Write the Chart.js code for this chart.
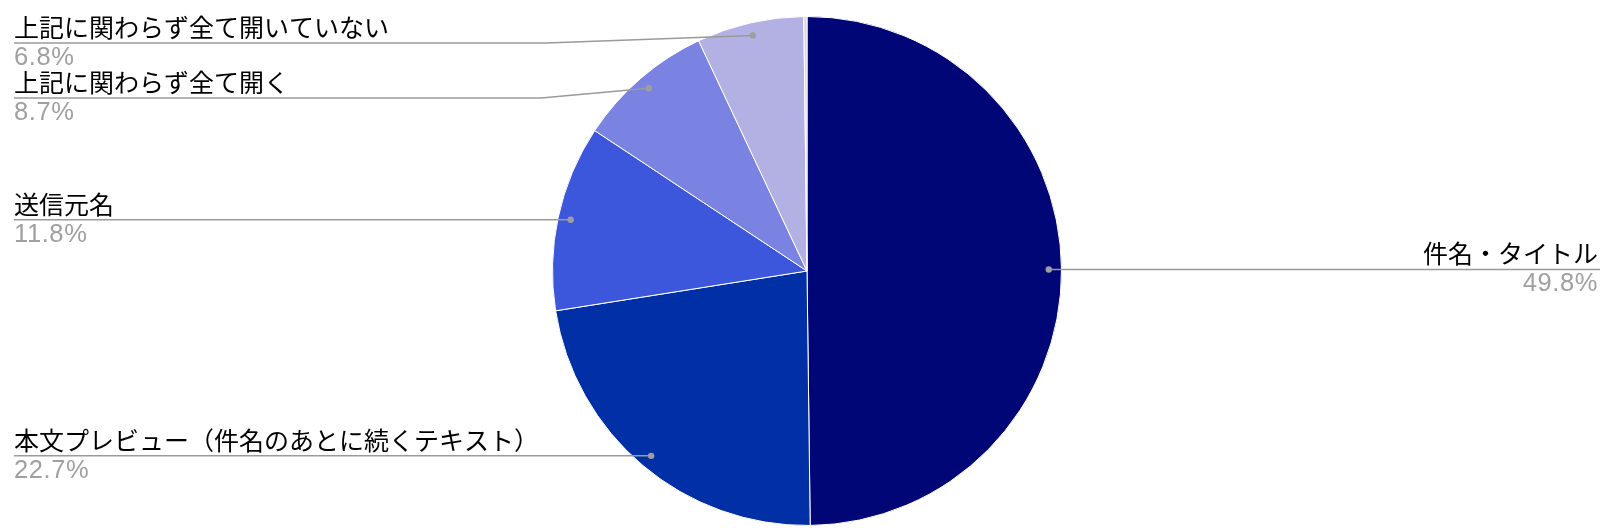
<!DOCTYPE html>
<html>
<head>
<meta charset="utf-8">
<script src="https://cdn.jsdelivr.net/npm/chart.js@4.4.1/dist/chart.umd.min.js"></script>
<style>
  html, body { margin: 0; padding: 0; background: #ffffff; }
  #wrap { width: 1600px; height: 528px; position: relative; }
</style>
</head>
<body>
<div id="wrap"><canvas id="c" width="1600" height="528"></canvas></div>
<script>
const categories = [
  '件名・タイトル',
  '本文プレビュー（件名のあとに続くテキスト）',
  '送信元名',
  '上記に関わらず全て開く',
  '上記に関わらず全て開いていない',
  'その他'
];
const values = [49.8, 22.7, 11.8, 8.7, 6.8, 0.2];
const colors = ['#000675', '#002FA6', '#3C57DB', '#7B83E2', '#B3B1E4', '#DADADA'];

const leaderPlugin = {
  id: 'leaders',
  afterDraw(chart, args, opts) {
    const ctx = chart.ctx;
    const meta = chart.getDatasetMeta(0);
    const total = values.reduce((a, b) => a + b, 0);
    ctx.save();
    meta.data.forEach((arc, i) => {
      const pct = values[i] / total * 100;
      if (pct < 1) return;
      const p = arc.getProps(['x', 'y', 'startAngle', 'endAngle', 'outerRadius'], true);
      const mid = (p.startAngle + p.endAngle) / 2;
      const ax = p.x + Math.cos(mid) * p.outerRadius * 0.95;
      const ay = p.y + Math.sin(mid) * p.outerRadius * 0.95;
      const ov = opts.overrides[i] || {};
      const lineY = ov.y !== undefined ? ov.y : ay;
      const right = Math.cos(mid) >= 0;
      ctx.strokeStyle = '#9a9a9a';
      ctx.lineWidth = 1.5;
      ctx.beginPath();
      if (right) {
        ctx.moveTo(ax, ay);
        ctx.lineTo(chart.width, lineY);
      } else {
        ctx.moveTo(opts.leftX, lineY);
        if (ov.elbowX !== undefined) {
          ctx.lineTo(ov.elbowX, lineY);
        }
        ctx.lineTo(ax, ay);
      }
      ctx.stroke();
      ctx.fillStyle = '#9e9e9e';
      ctx.beginPath();
      ctx.arc(ax, ay, 3.2, 0, Math.PI * 2);
      ctx.fill();

      ctx.textBaseline = 'alphabetic';
      ctx.textAlign = right ? 'right' : 'left';
      const tx = right ? chart.width - 2 : opts.leftX;
      ctx.letterSpacing = '0px';
      ctx.fillStyle = '#000000';
      ctx.font = '25px "Noto Sans CJK JP", sans-serif';
      ctx.fillText(categories[i], tx, lineY - 6);
      ctx.fillStyle = '#a0a0a0';
      ctx.font = '25.5px "Liberation Sans", Arial, sans-serif';
      ctx.letterSpacing = '0.6px';
      ctx.fillText(pct.toFixed(1) + '%', tx, lineY + 22);
    });
    ctx.restore();
  }
};

new Chart(document.getElementById('c'), {
  type: 'pie',
  data: {
    labels: categories,
    datasets: [{
      data: values,
      backgroundColor: colors,
      borderColor: '#ffffff',
      borderWidth: 1
    }]
  },
  options: {
    responsive: false,
    animation: false,
    events: [],
    layout: { padding: { top: 16, bottom: 2, left: 300, right: 286 } },
    plugins: {
      legend: { display: false },
      tooltip: { enabled: false },
      leaders: {
        leftX: 14,
        overrides: {
          3: { y: 98, elbowX: 541 },
          4: { y: 43, elbowX: 546 }
        }
      }
    }
  },
  plugins: [leaderPlugin]
});
</script>
</body>
</html>
